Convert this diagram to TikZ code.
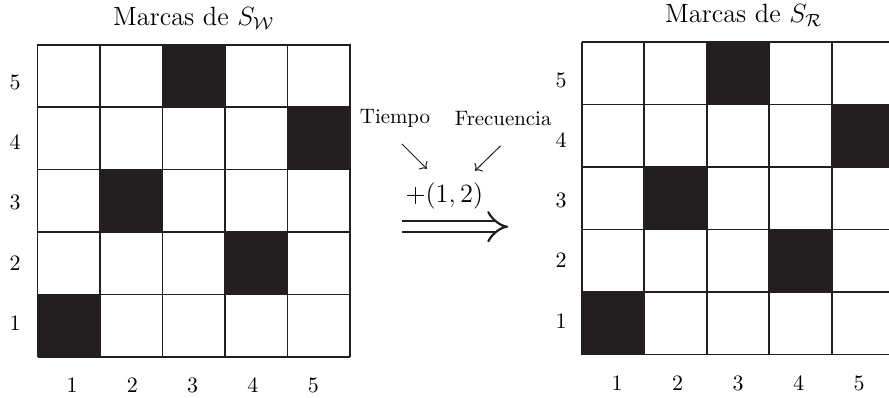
\documentclass[tikz,border=0pt]{standalone}
\usepackage{amsmath,amssymb}
\usepackage{tikz}
\usetikzlibrary{arrows.meta,positioning,calc}
\definecolor{ink}{HTML}{231F20}

\begin{document}
\begin{tikzpicture}[>=To]
\tikzset{celda/.style={draw=ink,line width=0.9pt}, marca/.style={fill=ink}, cifra/.style={inner sep=1pt}, flecha/.style={->,draw=ink,line width=0.45pt}, implica/.style={draw=ink,line width=1pt,double=white,double distance=4pt,-{Implies[scale=1.6]}}}
\useasboundingbox (-0.6,-0.656) rectangle (13.624,5.712);
% marcas de la izquierda
\foreach \c/\r in {1/1,2/3,3/5,4/2,5/4}
  \fill[marca] (\c-1,\r-1) rectangle (\c,\r);
\draw[celda] (0,0) grid (5,5);
\foreach \i in {1,...,5} {
  \node[cifra] (filaW\i) at (-0.36,{0.54+(\i-1)*0.965}) {$\i$};
  \node[cifra] (colW\i) at ({0.552+(\i-1)*0.965},-0.45) {$\i$};
}
\node[font=\large] (tituloW) at (2.5,5.42) {Marcas de $S_{\mathcal{W}}$};
% marcas de la derecha
\begin{scope}[shift={(8.71,0.04)}]
\foreach \c/\r in {1/1,2/3,3/5,4/2,5/4}
  \fill[marca] (\c-1,\r-1) rectangle (\c,\r);
\draw[celda] (0,0) grid (5,5);
\end{scope}
\foreach \i in {1,...,5} {
  \node[cifra] (filaR\i) at (8.376,{0.576+(\i-1)*0.963}) {$\i$};
  \node[cifra] (colR\i) at ({9.272+(\i-1)*0.968},-0.42) {$\i$};
}
\node[font=\large] (tituloR) at (11.3,5.46) {Marcas de $S_{\mathcal{R}}$};
% desplazamiento
\node[font=\fontsize{9.5}{11}\selectfont] (tiempo) at (5.72,3.81) {Tiempo};
\node[font=\fontsize{9.5}{11}\selectfont] (frec) at (7.45,3.81) {Frecuencia};
\coordinate (ini) at (5.83,2.085);
\coordinate (fin) at (7.53,2.085);
\draw[implica] (ini) -- node[pos=0.4,above=4pt,font=\large] (desp) {$+(1,2)$} (fin);
\coordinate (t0) at (5.83,3.41);
\coordinate (t1) at (6.23,3.01);
\coordinate (f0) at (7.41,3.38);
\coordinate (f1) at (7.0,2.98);
\draw[flecha] (t0) -- (t1);
\draw[flecha] (f0) -- (f1);
\end{tikzpicture}
\end{document}
